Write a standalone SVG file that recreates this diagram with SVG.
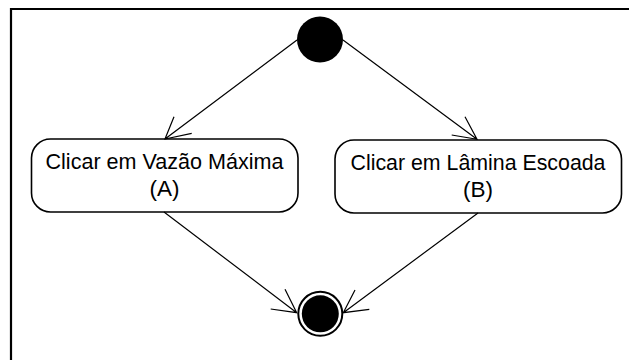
<svg xmlns="http://www.w3.org/2000/svg" width="629" height="360" viewBox="0 0 629 360">
<style>
.frame{fill:none;stroke:#000;stroke-width:2.2}
.act{fill:#fff;stroke:#000;stroke-width:1.6}
.lbl{font-family:"Liberation Sans",Arial,sans-serif;font-size:22.3px;fill:#000;text-anchor:middle}
.edge{fill:none;stroke:#000;stroke-width:1.2}
</style>
<rect width="629" height="360" fill="#fff"/>
<path class="frame" d="M11,360 V9 H629"/>
<g id="start">
<circle cx="320" cy="39.5" r="23" fill="#000"/>
</g>
<g id="actA">
<rect class="act" x="31.5" y="139" width="266.5" height="73" rx="19" ry="19"/>
<text class="lbl" x="164.5" y="169" textLength="238" lengthAdjust="spacingAndGlyphs">Clicar em Vazão Máxima</text>
<text class="lbl" x="164.5" y="196" textLength="30" lengthAdjust="spacingAndGlyphs">(A)</text>
</g>
<g id="actB">
<rect class="act" x="335" y="140" width="286.5" height="73" rx="19" ry="19"/>
<text class="lbl" x="478" y="170" textLength="255" lengthAdjust="spacingAndGlyphs">Clicar em Lâmina Escoada</text>
<text class="lbl" x="478" y="197" textLength="30" lengthAdjust="spacingAndGlyphs">(B)</text>
</g>
<g id="end">
<circle cx="320.3" cy="313.8" r="22" fill="#fff" stroke="#000" stroke-width="2"/>
<circle cx="320.3" cy="313.8" r="18.5" fill="#000"/>
</g>
<g id="connectors">
<path class="edge" d="M297,40 L165,139 M174,116.7 L165,139 L191.7,133.3"/>
<path class="edge" d="M343,40 L477,139.3 M465,116.7 L477,139.3 L451.7,135"/>
<path class="edge" d="M164,212 L296.7,312.7 M285,289.3 L296.7,312.7 L270.7,309"/>
<path class="edge" d="M478,213 L343.3,312.7 M355,290 L343.3,312.7 L369.3,309.3"/>
</g>
</svg>
